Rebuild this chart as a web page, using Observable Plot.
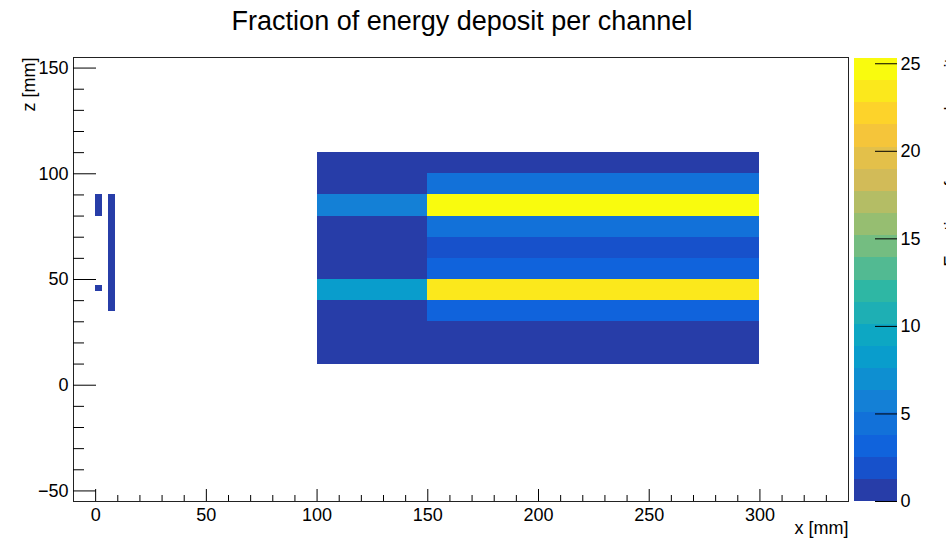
<!DOCTYPE html>
<html>
<head>
<meta charset="utf-8">
<script src="https://cdn.jsdelivr.net/npm/d3@7"></script>
<script src="https://cdn.jsdelivr.net/npm/@observablehq/plot@0.6"></script>
<style>
  html, body { margin: 0; padding: 0; background: #fff; overflow: hidden; }
  #chart { position: relative; width: 946px; height: 541px; overflow: hidden;
           font-family: "Liberation Sans", Arial, Helvetica, sans-serif; }
  #title { position: absolute; left: 0; top: 5px; width: 924px; text-align: center;
           font-size: 27px; color: #000; line-height: 32px; }
  #chart svg { position: absolute; top: 40px; }
</style>
</head>
<body>
<div id="chart">
  <div id="title">Fraction of energy deposit per channel</div>
</div>
<script>
// Calorimeter rows (z, mm), bottom to top
const rowLow  = [10, 20, 30, 40, 50, 60, 70, 80, 90, 100];
const rowHigh = [20, 30, 40, 50, 60, 70, 80, 90, 100, 110];
// Longitudinal sections (x, mm)
const frontSection = [100, 150];
const rearSection  = [150, 300];
// Fraction of deposited energy [%] in each row
const frontDeposit = [0.3, 0.3, 0.3, 8.5, 0.3, 0.3, 0.3, 5.8, 0.3, 0.3];
const rearDeposit  = [0.3, 0.3, 3.3, 23.6, 3.2, 1.9, 4.4, 25.3, 4.6, 0.3];
// Upstream pads
const padX1 = [0, 0, 6];
const padX2 = [3, 3, 9];
const padZ1 = [80, 44.5, 35];
const padZ2 = [90, 47, 90];
const padDeposit = [0.4, 0.4, 0.4];

// Axis ticks
const xTicks = [0, 50, 100, 150, 200, 250, 300];
const zTicks = [-50, 0, 50, 100, 150];
const colorTicks = [0, 5, 10, 15, 20, 25];
const xMinor = d3.range(10, 340, 10).filter(v => v % 50 !== 0);
const zMinor = d3.range(-50, 151, 10).filter(v => v % 50 !== 0);
const zMax = 25.3;

const FONT = '"Liberation Sans", Arial, Helvetica, sans-serif';

// "Bird" palette, split into 20 contour levels
const birdStops = [0, 0.125, 0.25, 0.375, 0.5, 0.625, 0.75, 0.875, 1];
const birdRGB = [
  [0.2082, 0.1664, 0.5293], [0.0592, 0.3599, 0.8684], [0.0780, 0.5041, 0.8385],
  [0.0232, 0.6419, 0.7914], [0.1802, 0.7178, 0.6425], [0.5301, 0.7492, 0.4662],
  [0.8186, 0.7328, 0.3499], [0.9956, 0.7862, 0.1968], [0.9764, 0.9832, 0.0539]
];
const bird = d3.scaleLinear().domain(birdStops)
  .range(birdRGB.map(([r, g, b]) => d3.rgb(r * 255, g * 255, b * 255).toString()));
const nLevels = 20;
const levelColors = d3.range(nLevels).map(i => bird(Math.floor((i + 0.99) * 255 / nLevels) / 254));
const thresholds = d3.range(1, nLevels).map(i => i * zMax / nLevels);
const colorScale = {type: "threshold", domain: thresholds, range: levelColors};

const cells = [
  ...rowLow.map((z, i) => ({x1: frontSection[0], x2: frontSection[1], z1: z, z2: rowHigh[i], value: frontDeposit[i]})),
  ...rowLow.map((z, i) => ({x1: rearSection[0], x2: rearSection[1], z1: z, z2: rowHigh[i], value: rearDeposit[i]})),
  ...padX1.map((x, i) => ({x1: x, x2: padX2[i], z1: padZ1[i], z2: padZ2[i], value: padDeposit[i]}))
];

const W = 946, H = 501, mL = 73, mR = 98, mT = 17, mB = 40;
const frameW = W - mL - mR, frameH = H - mT - mB;

const main = Plot.plot({
  width: W, height: H,
  marginLeft: mL, marginRight: mR, marginTop: mT, marginBottom: mB,
  style: {fontFamily: FONT, fontSize: "18px", color: "black", background: "transparent", overflow: "visible"},
  x: {domain: [-10, 340]},
  y: {domain: [-55, 155]},
  color: colorScale,
  marks: [
    Plot.rect(cells, {x1: "x1", x2: "x2", y1: "z1", y2: "z2", fill: "value", shapeRendering: "crispEdges"}),
    Plot.frame({stroke: "#222", strokeWidth: 1}),
    Plot.tickX(xMinor, {x: d => d, insetTop: frameH - 6, stroke: "black"}),
    Plot.tickX(xTicks, {x: d => d, insetTop: frameH - 12, stroke: "black"}),
    Plot.tickY(zMinor, {y: d => d, insetRight: frameW - 11, stroke: "black"}),
    Plot.tickY(zTicks, {y: d => d, insetRight: frameW - 23, stroke: "black"}),
    Plot.axisX(xTicks, {tickSize: 0, tickPadding: 7, label: null, fontSize: 18, tickFormat: d3.format("d")}),
    Plot.axisY(zTicks, {tickSize: 0, tickPadding: 5, label: null, fontSize: 18, tickFormat: d3.format("d")}),
    Plot.text(["x [mm]"], {frameAnchor: "bottom-right", textAnchor: "end", dy: 32, fontSize: 18}),
    Plot.text(["z [mm]"], {frameAnchor: "top-left", rotate: -90, textAnchor: "end", dx: -51, fontSize: 18})
  ]
});
main.style.left = "0px";
document.getElementById("chart").appendChild(main);

// Colour bar
const bands = d3.range(nLevels).map(i => ({lo: i * zMax / nLevels, hi: (i + 1) * zMax / nLevels}));
const bar = Plot.plot({
  width: 106, height: H,
  marginLeft: 14, marginRight: 49, marginTop: 18, marginBottom: mB,
  style: {fontFamily: FONT, fontSize: "18px", color: "black", background: "transparent", overflow: "visible"},
  y: {domain: [0, zMax]},
  color: colorScale,
  marks: [
    Plot.rect(bands, {y1: "lo", y2: "hi", fill: d => (d.lo + d.hi) / 2, shapeRendering: "crispEdges"}),
    Plot.tickY(colorTicks, {y: d => d, insetLeft: 21, stroke: "black"}),
    Plot.axisY(colorTicks, {anchor: "right", tickSize: 0, tickPadding: 3, label: null, fontSize: 18}),
    Plot.text(["Fraction of energy deposit"], {frameAnchor: "top-right", rotate: -90, textAnchor: "end", dx: 47, fontSize: 18})
  ]
});
bar.style.left = "840px";
document.getElementById("chart").appendChild(bar);
</script>
</body>
</html>
